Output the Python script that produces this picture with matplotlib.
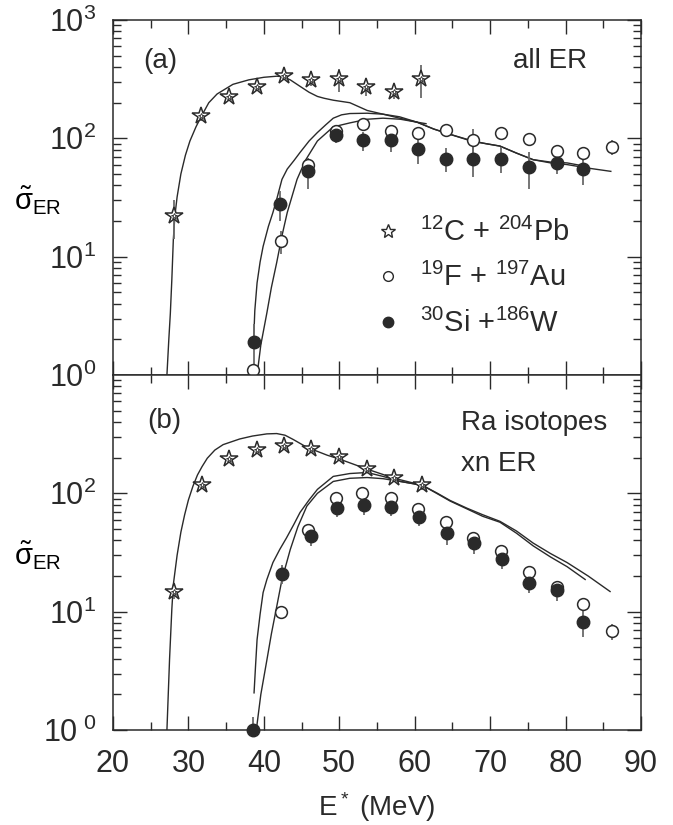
import numpy as np
import matplotlib
matplotlib.use("Agg")
import matplotlib.pyplot as plt
from matplotlib.ticker import FixedLocator, FixedFormatter, LogLocator, NullFormatter, MultipleLocator
from matplotlib.lines import Line2D

plt.rcParams['font.family'] = ['Liberation Sans', 'DejaVu Sans']
plt.rcParams['mathtext.fontset'] = 'custom'
plt.rcParams['mathtext.rm'] = 'Liberation Sans'
plt.rcParams['mathtext.it'] = 'Liberation Sans:italic'
plt.rcParams['mathtext.sf'] = 'Liberation Sans'

# ---------------- panel (a): all ER ----------------
a_c_x = [28.1, 31.7, 35.4, 39.1, 42.7, 46.3, 50.0, 53.6, 57.3, 60.8]
a_c_y = [22, 153, 222, 271, 335, 310, 316, 271, 245, 320]
a_c_err = [8, 12, 15, 18, 25, 35, 70, 45, 30, 100]

a_f_x = [38.6, 42.3, 45.9, 49.6, 53.2, 56.9, 60.5, 64.2, 67.7, 71.5, 75.2, 78.8, 82.3, 86.2]
a_f_y = [1.1, 13.6, 60, 115, 131, 115, 112, 117, 96, 110, 98, 78, 74.5, 84]
a_f_err = [0.1, 3, 8, 12, 12, 12, 12, 14, 25, 14, 12, 10, 10, 12]

a_s_x = [38.7, 42.1, 45.9, 49.6, 53.2, 56.9, 60.5, 64.2, 67.7, 71.5, 75.2, 78.8, 82.3]
a_s_y = [1.9, 28, 52.6, 106, 96, 96, 80.7, 67.5, 67.5, 67.5, 57, 61.6, 54.6]
a_s_err = [0.8, 8, 15, 15, 18, 19, 20, 16, 20, 17, 20, 12, 14]

# theory curves (a)
a_tc_x = [27.15, 27.4, 27.6, 27.8, 28.0, 28.2, 28.5, 29.0, 29.6, 30.2, 31.0, 31.7, 32.7, 33.8, 35.9,
          38.0, 40.0, 41.7, 42.5, 43.5, 44.8, 46.0, 47.1, 48.0, 49.2, 51.4, 53.7, 55.8, 58.0, 60.3, 61.5]
a_tc_y = [1.0, 2.0, 3.3, 6.4, 14, 22, 32, 50, 72, 95, 125, 153, 200, 237, 286,
          312, 328, 335, 332, 312, 275, 245, 226, 218, 210, 200, 172, 160, 148, 137, 133]

a_ts_x = [38.65, 38.8, 39.1, 39.5, 39.9, 40.6, 41.2, 41.7, 42.4, 43.1, 44.0, 44.8, 46.0, 47.1,
          48.2, 49.2, 50.3, 51.4, 53.7, 55.8, 58.0, 60.3, 62.5, 64.7, 66.5, 67.7, 69.5, 71.3,
          73.5, 75.7, 78.0, 80.2, 82.8]
a_ts_y = [2.0, 3.5, 6.0, 9.0, 12.2, 18, 23.6, 30.5, 45, 55, 65, 76, 95, 112,
          130, 148, 158, 162, 163, 160, 152, 137, 120, 108, 100, 95, 90, 86,
          75, 66, 63, 62, 57.8]

a_tf_x = [39.1, 39.6, 40.4, 41.0, 41.7, 42.4, 43.1, 44.4, 45.5, 47.1, 49.2, 51.4, 53.7, 55.8,
          58.1, 60.3, 62.5, 64.7, 67.7, 69.5, 71.3, 73.5, 75.7, 78.0, 80.2, 83.0, 86.0]
a_tf_y = [1.0, 1.8, 3.35, 5.5, 8.9, 15, 23.6, 45, 65, 95, 125, 135, 145, 148,
          145, 137, 120, 108, 94, 90, 86, 75, 66, 62, 60, 56, 52.6]

# ---------------- panel (b): Ra isotopes xn ER ----------------
b_c_x = [28.1, 31.8, 35.4, 39.1, 42.7, 46.3, 50.0, 53.7, 57.3, 61.0]
b_c_y = [14.8, 117, 194, 232, 251, 236, 202, 160, 134, 117]
b_c_err = [2, 8, 10, 12, 15, 14, 12, 12, 10, 10]

b_f_x = [42.3, 45.9, 49.5, 53.0, 56.9, 60.5, 64.2, 67.7, 71.5, 75.2, 78.8, 82.3, 86.2]
b_f_y = [10, 48.6, 90.6, 100, 90.6, 73.4, 57, 41.6, 32.3, 21.8, 16.3, 11.7, 6.8]
b_f_err = [1, 4, 7, 8, 7, 6, 5, 5, 3, 2, 1.5, 1.2, 1.0]

b_s_x = [38.6, 42.4, 46.3, 49.7, 53.3, 56.9, 60.6, 64.3, 67.9, 71.6, 75.2, 78.8, 82.3]
b_s_y = [1.0, 21, 44, 75, 79, 76, 63.7, 45.8, 37.7, 28.1, 17.3, 15.3, 8.1]
b_s_err = [0.3, 4, 8, 12, 13, 12, 11, 9, 7, 5, 3, 3, 2]

b_tc_x = [27.15, 27.5, 27.8, 28.0, 28.5, 29.0, 29.5, 30.0, 30.6, 31.2, 31.8, 32.5, 33.5, 34.6,
          36.8, 38.5, 40.4, 41.7, 42.8, 43.9, 45.7, 48.4, 50.1, 53.7, 57.3, 61.0]
b_tc_y = [1.0, 4.0, 10.5, 17, 30, 47, 66, 88, 115, 143, 168, 198, 232, 258,
          288, 305, 318, 320, 310, 285, 245, 210, 194, 160, 134, 117]

b_ts_x = [38.7, 38.9, 39.1, 39.5, 39.9, 40.4, 41.2, 42.1, 43.0, 44.0, 44.8, 46.0, 47.1,
          49.2, 51.4, 53.7, 55.8, 58.1, 61.0, 62.9, 64.7, 66.9, 69.0, 71.3, 73.5, 75.7,
          78.0, 80.2, 82.6]
b_ts_y = [2.06, 3.5, 5.8, 9.5, 14.5, 18.7, 26, 33.5, 42, 55, 69, 88, 108,
          139, 147, 150, 139, 126, 117, 100, 86, 74, 64, 57, 46, 36,
          29, 24, 18.7]

b_tf_x = [39.0, 39.6, 40.4, 41.0, 41.7, 42.4, 43.5, 44.5, 45.7, 47.1, 49.2, 51.4, 53.7,
          55.8, 58.1, 61.0, 62.9, 64.7, 66.9, 69.0, 71.3, 73.5, 75.7, 78.0, 80.2, 83.0, 85.9]
b_tf_y = [1.0, 2.0, 3.9, 6.5, 11, 18.7, 33.5, 52, 78, 100, 126, 134, 136,
          133, 126, 117, 101, 87, 75, 66, 58, 48, 38, 31, 26, 20, 14.8]

legend_labels = [r'$^{12}$C + $^{204}$Pb', r'$^{19}$F + $^{197}$Au', r'$^{30}$Si +$^{186}$W']

ytick_vals_a = [1, 10, 100, 1000]
ytick_labels_a = [r'$10^0$', r'$10^1$', r'$10^2$', r'$10^3$']
ytick_vals_b = [1, 10, 100]
ytick_labels_b = [r'$10^{\ 0}$', r'$10^1$', r'$10^2$']
xticks = [20, 30, 40, 50, 60, 70, 80, 90]

LC = '#2a2a2a'
EC = '#6a6a6a'

fig = plt.figure(figsize=(6.73, 8.25), dpi=100)
axa = fig.add_axes([113/673, 1 - 375/825, 528/673, 355/825])
axb = fig.add_axes([113/673, 1 - 730/825, 528/673, 355/825])


def draw(ax, tc, ts, tf, c, f, s):
    for (x, y) in (tc, ts, tf):
        ax.plot(x, y, '-', color=LC, lw=1.0, zorder=2)
    ax.errorbar(c[0], c[1], yerr=c[2], fmt='none', ecolor=EC, elinewidth=1.3, capsize=0, zorder=3)
    ax.errorbar(f[0], f[1], yerr=f[2], fmt='none', ecolor=EC, elinewidth=1.3, capsize=0, zorder=3)
    ax.errorbar(s[0], s[1], yerr=s[2], fmt='none', ecolor=EC, elinewidth=1.3, capsize=0, zorder=3)
    ax.plot(c[0], c[1], ls='none', marker='*', ms=13, mfc='white', mec=LC, mew=1.1, zorder=5, clip_on=False)
    ax.plot(c[0], c[1], ls='none', marker='*', ms=5, mfc='white', mec=LC, mew=0.6, zorder=6, clip_on=False)
    ax.plot(f[0], f[1], ls='none', marker='o', ms=8.5, mfc='white', mec=LC, mew=1.1, zorder=4, clip_on=False)
    ax.plot(s[0], s[1], ls='none', marker='o', ms=9, mfc=LC, mec=LC, mew=1.0, zorder=5, clip_on=False)


draw(axa, (a_tc_x, a_tc_y), (a_ts_x, a_ts_y), (a_tf_x, a_tf_y),
     (a_c_x, a_c_y, a_c_err), (a_f_x, a_f_y, a_f_err), (a_s_x, a_s_y, a_s_err))
draw(axb, (b_tc_x, b_tc_y), (b_ts_x, b_ts_y), (b_tf_x, b_tf_y),
     (b_c_x, b_c_y, b_c_err), (b_f_x, b_f_y, b_f_err), (b_s_x, b_s_y, b_s_err))

for ax in (axa, axb):
    ax.set_yscale('log')
    ax.set_xlim(20, 90)
    ax.set_ylim(1, 1000)
    ax.xaxis.set_major_locator(FixedLocator(xticks))
    ax.xaxis.set_minor_locator(MultipleLocator(5))
    ax.yaxis.set_minor_locator(LogLocator(base=10, subs=np.arange(2, 10)))
    ax.yaxis.set_minor_formatter(NullFormatter())
    ax.tick_params(which='both', direction='in', top=True, right=True, colors=LC, width=1.0)
    ax.tick_params(which='major', length=10, labelsize=22)
    ax.tick_params(axis='y', which='major', pad=12)
    ax.tick_params(axis='x', which='major', pad=14)
    ax.tick_params(which='minor', length=6)
    for sp in ax.spines.values():
        sp.set_color(LC)
        sp.set_linewidth(1.1)
    ax.set_ylabel(r'$\tilde{\mathrm{\sigma}}_{\mathrm{ER}}$', fontsize=21, rotation=0,
                  va='center', ha='center')
    ax.yaxis.set_label_coords(-0.142, 0.49)

axa.yaxis.set_major_locator(FixedLocator(ytick_vals_a))
axa.yaxis.set_major_formatter(FixedFormatter(ytick_labels_a))
axa.tick_params(axis='x', labelbottom=False)
axb.yaxis.set_major_locator(FixedLocator(ytick_vals_b))
axb.yaxis.set_major_formatter(FixedFormatter(ytick_labels_b))
axb.set_xticklabels([str(v) for v in xticks])
axb.set_xlabel(r'E$^*$ (MeV)', fontsize=20, labelpad=8, color=LC)

for t in axa.get_yticklabels() + axb.get_yticklabels() + axb.get_xticklabels():
    t.set_color(LC)

axa.text(0.058, 0.885, '(a)', transform=axa.transAxes, fontsize=20, color=LC, ha='left', va='center')
axa.text(0.828, 0.885, 'all ER', transform=axa.transAxes, fontsize=20, color=LC, ha='center', va='center')
axb.text(0.065, 0.87, '(b)', transform=axb.transAxes, fontsize=20, color=LC, ha='left', va='center')
axb.text(0.66, 0.865, 'Ra isotopes', transform=axb.transAxes, fontsize=20, color=LC, ha='left', va='center')
axb.text(0.66, 0.75, 'xn ER', transform=axb.transAxes, fontsize=20, color=LC, ha='left', va='center')

handles = [
    Line2D([], [], ls='none', marker='*', ms=10, mfc='white', mec=LC, mew=1.0),
    Line2D([], [], ls='none', marker='o', ms=7, mfc='white', mec=LC, mew=1.0),
    Line2D([], [], ls='none', marker='o', ms=7.5, mfc=LC, mec=LC),
]
leg = axa.legend(handles, legend_labels, loc='upper left', bbox_to_anchor=(0.465, 0.475),
                 frameon=False, fontsize=21, handlelength=1.2, handletextpad=0.5,
                 labelspacing=0.55, borderaxespad=0)
for t in leg.get_texts():
    t.set_color(LC)

fig.savefig('out.png', dpi=100)
